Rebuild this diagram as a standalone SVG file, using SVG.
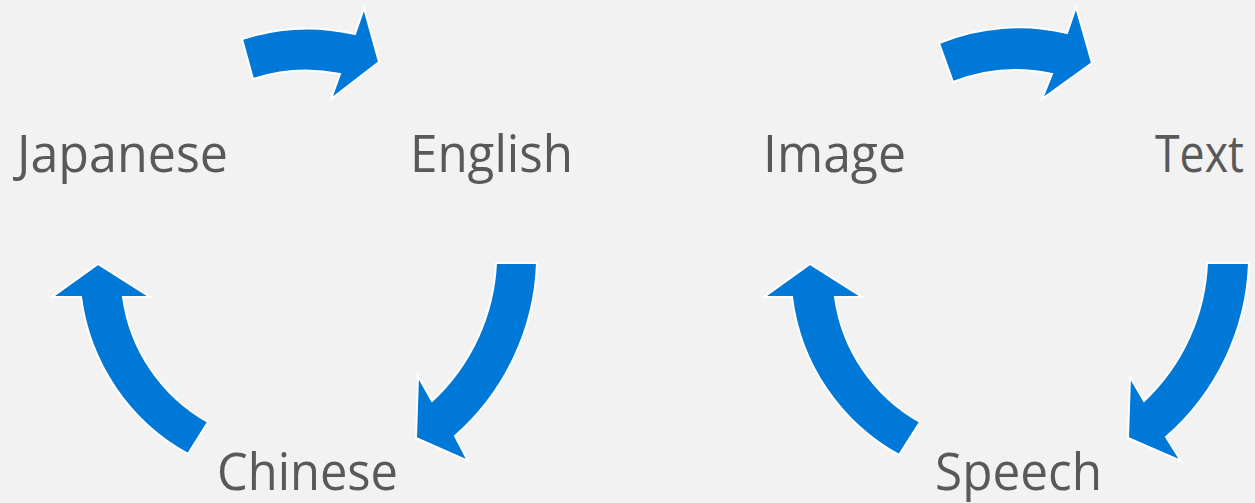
<svg xmlns="http://www.w3.org/2000/svg" width="1255" height="503" viewBox="0 0 1255 503">
<style>
.arrow{fill:#0078D7;stroke:#FFFFFF;stroke-width:2;stroke-linejoin:miter}
.lbl{font-family:"Open Sans","Noto Sans","Liberation Sans",sans-serif;font-size:51px;fill:#595959}
</style>
<rect x="0" y="0" width="1255" height="503" fill="#F2F2F2"/>
<g id="connectors">
<path class="arrow" d="M242,39 A210,210 0 0 1 355,34 L364,8 L379,62 L331,99 L340,74 A170,170 0 0 0 253,79 Z"/>
<path class="arrow" d="M496,263 L537,263 A242,242 0 0 1 455,436 L468,461 L416,438 L418,376 L432,401 A201,201 0 0 0 496,263 Z"/>
<path class="arrow" d="M98,264 L150,297 L123,297 A170,170 0 0 0 208,422 L188,454 A210,210 0 0 1 81,297 L52,297 Z"/>
<path class="arrow" d="M939,43 A210,210 0 0 1 1067,33 L1076,7 L1092,63 L1042,99 L1052,74 A170,170 0 0 0 953,82 Z"/>
<path class="arrow" d="M1207,263 L1249,263 A242,242 0 0 1 1166,437 L1181,461 L1128,438 L1130,377 L1144,401 A201,201 0 0 0 1207,263 Z"/>
<path class="arrow" d="M810,264 L862,297 L835,297 A170,170 0 0 0 920,422 L899,455 A210,210 0 0 1 792,297 L764,297 Z"/>
</g>
<g id="japanese"><text class="lbl" x="17" y="172" textLength="211" lengthAdjust="spacingAndGlyphs">Japanese</text></g>
<g id="english"><text class="lbl" x="410" y="172" textLength="163" lengthAdjust="spacingAndGlyphs">English</text></g>
<g id="chinese"><text class="lbl" x="217" y="490" textLength="181" lengthAdjust="spacingAndGlyphs">Chinese</text></g>
<g id="image"><text class="lbl" x="763" y="172" textLength="143" lengthAdjust="spacingAndGlyphs">Image</text></g>
<g id="text"><text class="lbl" x="1155" y="172" textLength="89" lengthAdjust="spacingAndGlyphs">Text</text></g>
<g id="speech"><text class="lbl" x="935" y="490" textLength="167" lengthAdjust="spacingAndGlyphs">Speech</text></g>
</svg>
